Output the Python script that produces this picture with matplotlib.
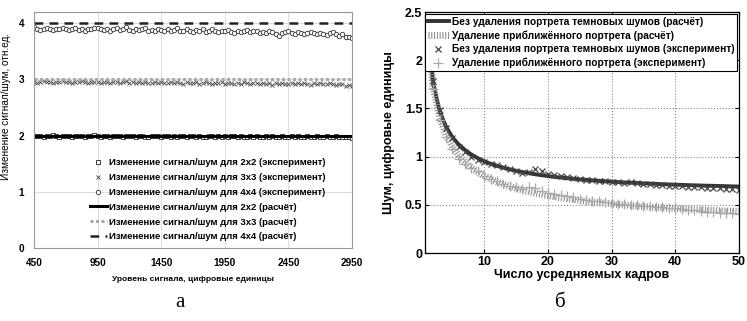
import numpy as np
import matplotlib.pyplot as plt

# ===== данные (а): изменение сигнал/шум =====
signal_lvl = np.arange(450, 2951, 25)

snr_2x2_exp = [
    2.00, 1.99, 2.00, 1.98, 2.00, 1.99, 2.01, 1.99, 1.98, 2.00,
    1.99, 2.00, 1.98, 1.99, 2.00, 1.99, 1.98, 2.00, 1.99, 2.01,
    1.99, 1.98, 2.00, 1.99, 1.98, 2.00, 1.99, 2.00, 1.98, 1.99,
    2.00, 1.99, 1.98, 1.99, 2.00, 1.98, 1.97, 1.99, 2.00, 1.99,
    1.98, 1.99, 2.00, 1.98, 1.99, 1.98, 2.00, 1.99, 1.97, 1.99,
    2.00, 1.98, 1.99, 1.98, 1.97, 1.99, 2.00, 1.98, 1.99, 1.98,
    1.99, 1.97, 1.99, 2.00, 1.98, 1.99, 1.97, 1.98, 2.00, 1.98,
    1.99, 1.98, 1.97, 1.99, 1.98, 2.00, 1.98, 1.97, 1.99, 1.98,
    1.97, 1.99, 1.98, 2.00, 1.98, 1.97, 1.99, 1.98, 1.97, 1.99,
    1.98, 1.97, 1.99, 1.98, 1.97, 1.99, 1.98, 1.97, 1.98, 1.97, 1.96]

snr_3x3_exp = [
    2.95, 2.93, 2.96, 2.97, 2.95, 2.96, 2.94, 2.96, 2.95, 2.97,
    2.95, 2.96, 2.94, 2.96, 2.95, 2.97, 2.95, 2.94, 2.96, 2.95,
    2.96, 2.94, 2.95, 2.96, 2.93, 2.95, 2.96, 2.94, 2.95, 2.97,
    2.94, 2.95, 2.93, 2.96, 2.94, 2.95, 2.93, 2.94, 2.96, 2.94,
    2.95, 2.93, 2.94, 2.96, 2.93, 2.95, 2.94, 2.92, 2.95, 2.94,
    2.93, 2.95, 2.92, 2.94, 2.96, 2.93, 2.92, 2.94, 2.93, 2.95,
    2.92, 2.94, 2.93, 2.91, 2.94, 2.92, 2.95, 2.93, 2.92, 2.94,
    2.93, 2.91, 2.94, 2.92, 2.93, 2.90, 2.93, 2.92, 2.94, 2.92,
    2.91, 2.93, 2.92, 2.94, 2.91, 2.93, 2.92, 2.90, 2.93, 2.92,
    2.94, 2.92, 2.91, 2.93, 2.92, 2.90, 2.92, 2.91, 2.89, 2.90, 2.89]

snr_4x4_exp = [
    3.94, 3.90, 3.88, 3.89, 3.91, 3.89, 3.88, 3.90, 3.89, 3.92,
    3.89, 3.88, 3.90, 3.91, 3.88, 3.89, 3.87, 3.90, 3.89, 3.91,
    3.92, 3.89, 3.88, 3.90, 3.87, 3.89, 3.91, 3.88, 3.90, 3.93,
    3.88, 3.87, 3.89, 3.88, 3.90, 3.92, 3.87, 3.88, 3.86, 3.89,
    3.88, 3.87, 3.90, 3.86, 3.88, 3.91, 3.87, 3.86, 3.89, 3.87,
    3.85, 3.88, 3.86, 3.89, 3.85, 3.87, 3.90, 3.86, 3.84, 3.87,
    3.86, 3.88, 3.85, 3.83, 3.87, 3.85, 3.86, 3.88, 3.84, 3.86,
    3.87, 3.83, 3.85, 3.82, 3.86, 3.84, 3.81, 3.78, 3.82, 3.84,
    3.86, 3.83, 3.81, 3.84, 3.82, 3.80, 3.83, 3.85, 3.82, 3.80,
    3.83, 3.81, 3.79, 3.82, 3.84, 3.80, 3.78, 3.80, 3.76, 3.75, 3.73]

calc_x = [450, 2950]
snr_2x2_calc = [2.0, 2.0]
snr_3x3_calc = [3.0, 3.0]
snr_4x4_calc = [4.0, 4.0]

# ===== данные (б): шум от числа кадров =====
n_frames = np.arange(1, 51)

noise_raw_calc = [
    2.40, 1.75, 1.47, 1.31, 1.20, 1.125, 1.067, 1.021, 0.983, 0.952,
    0.926, 0.904, 0.885, 0.868, 0.853, 0.840, 0.828, 0.817, 0.807, 0.799,
    0.790, 0.783, 0.776, 0.770, 0.764, 0.759, 0.753, 0.749, 0.744, 0.740,
    0.736, 0.732, 0.729, 0.726, 0.722, 0.720, 0.717, 0.714, 0.711, 0.709,
    0.707, 0.704, 0.702, 0.700, 0.698, 0.697, 0.695, 0.693, 0.691, 0.690]

noise_approx_calc = [
    2.40, 1.708, 1.403, 1.222, 1.100, 1.010, 0.940, 0.884, 0.839, 0.800,
    0.767, 0.738, 0.713, 0.691, 0.671, 0.653, 0.637, 0.622, 0.609, 0.596,
    0.585, 0.574, 0.564, 0.555, 0.546, 0.538, 0.531, 0.524, 0.517, 0.511,
    0.504, 0.499, 0.493, 0.488, 0.483, 0.479, 0.474, 0.470, 0.466, 0.462,
    0.458, 0.454, 0.451, 0.448, 0.444, 0.441, 0.438, 0.435, 0.433, 0.430]

noise_raw_exp = [
    2.42, 1.78, 1.48, 1.30, 1.19, 1.10, 1.05, 1.00, 0.97, 0.94,
    0.92, 0.91, 0.89, 0.87, 0.85, 0.83, 0.84, 0.87, 0.85, 0.82,
    0.81, 0.80, 0.79, 0.78, 0.77, 0.76, 0.755, 0.75, 0.745, 0.74,
    0.735, 0.73, 0.735, 0.73, 0.72, 0.715, 0.71, 0.705, 0.70, 0.695,
    0.69, 0.685, 0.68, 0.68, 0.675, 0.67, 0.67, 0.665, 0.66, 0.655]

noise_approx_exp = [
    2.38, 1.70, 1.38, 1.20, 1.08, 0.98, 0.92, 0.88, 0.85, 0.80,
    0.77, 0.75, 0.72, 0.70, 0.68, 0.66, 0.68, 0.67, 0.64, 0.62,
    0.61, 0.60, 0.59, 0.58, 0.565, 0.55, 0.54, 0.535, 0.525, 0.515,
    0.51, 0.505, 0.50, 0.495, 0.49, 0.485, 0.48, 0.475, 0.47, 0.465,
    0.455, 0.45, 0.445, 0.44, 0.43, 0.425, 0.42, 0.415, 0.41, 0.40]

plt.rcParams['font.family'] = ['Liberation Sans', 'DejaVu Sans']

fig = plt.figure(figsize=(7.47, 3.21), dpi=100)

# ----- (а) -----
ax1 = fig.add_axes([0.0455, 0.2274, 0.4257, 0.7352])
ax1.plot(signal_lvl, snr_2x2_exp, ls='none', marker='s', ms=2.6, mfc='white',
         mec='#222222', mew=0.6, label='Изменение сигнал/шум для 2x2 (эксперимент)')
ax1.plot(signal_lvl, snr_3x3_exp, ls='none', marker='x', ms=2.6,
         color='#444444', mew=0.6, label='Изменение сигнал/шум для 3x3 (эксперимент)')
ax1.plot(signal_lvl, snr_4x4_exp, ls='none', marker='o', ms=3.2, mfc='white',
         mec='#333333', mew=0.6, label='Изменение сигнал/шум для 4x4 (эксперимент)')
ax1.plot(calc_x, snr_2x2_calc, color='black', lw=2.2, label='Изменение сигнал/шум для 2x2 (расчёт)')
ax1.plot(calc_x, snr_3x3_calc, color='#aaaaaa', lw=2.2, dashes=(1, 0.8),
         label='Изменение сигнал/шум для 3x3 (расчёт)')
ax1.plot(calc_x, snr_4x4_calc, color='#222222', lw=1.8, dashes=(3.5, 2.5),
         label='Изменение сигнал/шум для 4x4 (расчёт)')
ax1.set_xlim(450, 2950)
ax1.set_ylim(0, 4.2)
ax1.set_xticks(range(450, 2951, 500))
ax1.set_yticks([0, 1, 2, 3, 4])
ax1.grid(True, color='#dddddd', lw=0.7)
ax1.tick_params(length=0, labelsize=7.2, pad=7)
for t in ax1.get_xticklabels() + ax1.get_yticklabels():
    t.set_fontweight('bold')
for s in ax1.spines.values():
    s.set_color('#999999')
    s.set_linewidth(0.8)
ax1.set_xlabel('Уровень сигнала, цифровые единицы', fontsize=6.0, fontweight='bold', labelpad=6)
ax1.set_ylabel('Изменение сигнал/шум, отн.ед.', fontsize=7.2)
ax1.yaxis.set_label_coords(-0.072, 0.6)
ax1.legend(loc='lower left', bbox_to_anchor=(0.155, 0.0), frameon=False,
           prop={'weight': 'bold', 'size': 6.8}, labelspacing=0.62, handlelength=1.8,
           handletextpad=0.25, borderaxespad=0.3)

# ----- (б) -----
ax2 = fig.add_axes([0.569, 0.2118, 0.420, 0.7508])
ax2.plot(n_frames, noise_raw_calc, color='#333333', lw=2.8,
         label='Без удаления портрета темновых шумов (расчёт)')
ax2.plot(n_frames, noise_approx_calc, color='#8c8c8c', lw=5, dashes=(0.15, 0.25),
         dash_capstyle='butt', label='Удаление приближённого портрета (расчёт)')
ax2.plot(n_frames, noise_raw_exp, ls='none', marker='x', ms=5, mew=0.9, color='#444444',
         label='Без удаления портрета темновых шумов (эксперимент)')
ax2.plot(n_frames, noise_approx_exp, ls='none', marker='+', ms=7, mew=0.9, color='#aaaaaa',
         label='Удаление приближённого портрета (эксперимент)')
ax2.set_xlim(0.7, 50)
ax2.set_ylim(0, 2.5)
ax2.set_xticks([10, 20, 30, 40, 50])
ax2.set_yticks([0, 0.5, 1, 1.5, 2, 2.5])
ax2.set_yticklabels(['0', '0.5', '1', '1.5', '2', '2.5'])
ax2.grid(True, color='#888888', ls=':', lw=0.8)
ax2.tick_params(direction='in', length=3, labelsize=9, pad=2, top=True, right=True)
for t in ax2.get_xticklabels() + ax2.get_yticklabels():
    t.set_fontweight('bold')
for s in ax2.spines.values():
    s.set_linewidth(0.9)
ax2.set_xlabel('Число усредняемых кадров', fontsize=9, fontweight='bold', labelpad=1)
ax2.set_ylabel('Шум, цифровые единицы', fontsize=9, fontweight='bold', labelpad=7)
leg = ax2.legend(loc='upper right', prop={'weight': 'bold', 'size': 7.3},
                 fancybox=False, edgecolor='black', framealpha=1, borderaxespad=0.15,
                 handlelength=2.0, labelspacing=0.35, borderpad=0.3, handletextpad=0.3)
leg.get_frame().set_linewidth(0.8)

fig.text(0.241, 0.045, 'а', fontsize=15, family='Liberation Serif', ha='center')
fig.text(0.750, 0.045, 'б', fontsize=15, family='Liberation Serif', ha='center')

fig.savefig('out.png', dpi=100)
